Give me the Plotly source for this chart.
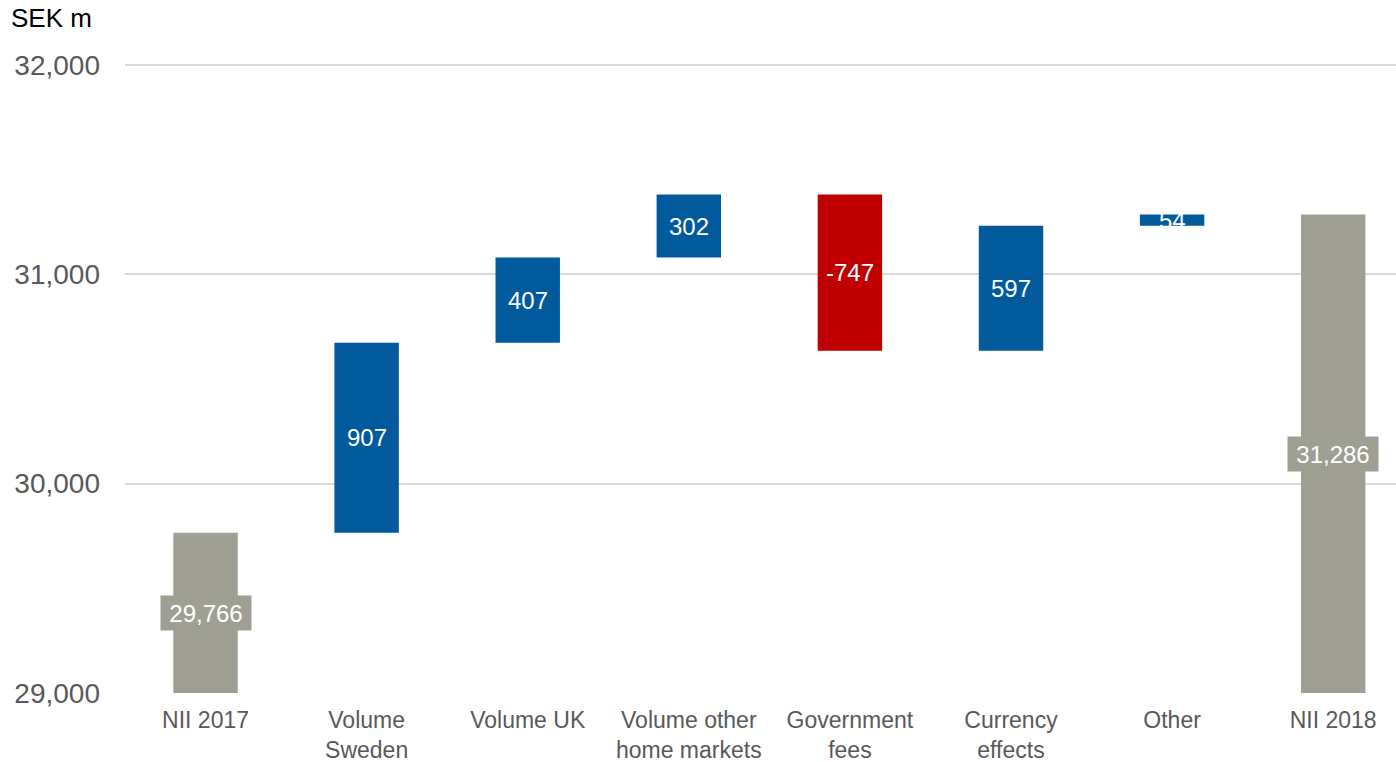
import plotly.graph_objects as go

categories = ["NII 2017", "Volume<br>Sweden", "Volume UK", "Volume other<br>home markets",
              "Government<br>fees", "Currency<br>effects", "Other", "NII 2018"]
start_total = 29766
changes = [907, 407, 302, -747, 597, 54]
end_total = 31286
y_ticks = [29000, 30000, 31000, 32000]

GREY = "#A09F94"
BLUE = "#005A9C"
RED = "#C00000"
FONT = "Liberation Sans, Arial, sans-serif"

# cumulative bases for the floating bars
bases, heights, colors, labels = [], [], [], []
bases.append(0); heights.append(start_total); colors.append(GREY); labels.append(f"{start_total:,}")
running = start_total
for c in changes:
    lo = running if c >= 0 else running + c
    bases.append(lo); heights.append(abs(c))
    colors.append(BLUE if c >= 0 else RED)
    labels.append(f"{c}")
    running += c
bases.append(0); heights.append(end_total); colors.append(GREY); labels.append(f"{end_total:,}")

fig = go.Figure(go.Bar(
    x=list(range(len(categories))), y=heights, base=bases,
    marker=dict(color=colors, line=dict(width=0)),
    width=0.4, hoverinfo="skip",
))

ymin = y_ticks[0]
for i, (b, h, lab) in enumerate(zip(bases, heights, labels)):
    is_total = i == 0 or i == len(categories) - 1
    mid = (max(b, ymin) + b + h) / 2
    if is_total:
        fig.add_annotation(
            x=i, y=mid, text=lab, showarrow=False,
            font=dict(family=FONT, size=24, color="white"),
            bgcolor=GREY, width=90, height=34, borderpad=0,
        )
    else:
        fig.add_annotation(
            x=i, y=mid, text=lab, showarrow=False,
            font=dict(family=FONT, size=24, color="white"),
        )

fig.add_annotation(
    xref="paper", yref="paper", x=-116 / 1271, y=1.0, yshift=59, xanchor="left", yanchor="top",
    text="SEK m", showarrow=False, font=dict(family=FONT, size=26, color="black"),
)

fig.update_layout(
    width=1396, height=762, paper_bgcolor="white", plot_bgcolor="white",
    margin=dict(l=125, r=0, t=60, b=69),
    showlegend=False,
    font=dict(family=FONT),
)
fig.update_yaxes(
    range=[29000, 32024], tickvals=y_ticks, tickformat=",", showgrid=True,
    gridcolor="#D9D9D9", gridwidth=1.5, zeroline=False, showline=False,
    tickfont=dict(family=FONT, size=28, color="#595959"), ticklabelstandoff=24,
    automargin=False,
)
fig.update_xaxes(
    range=[-0.5, 7.39], tickvals=list(range(len(categories))), ticktext=categories,
    showgrid=False, showline=False, ticks="", zeroline=False,
    tickfont=dict(family=FONT, size=23, color="#595959"), ticklabelstandoff=11,
    automargin=False,
)

fig.write_html("out.html")
